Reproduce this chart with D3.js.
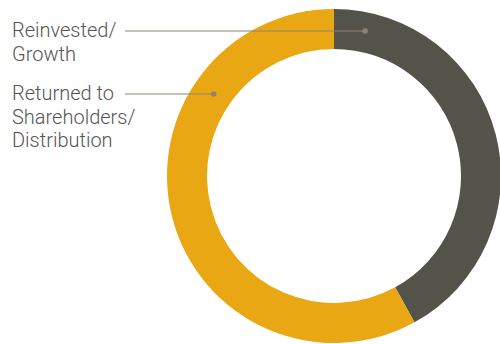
<!DOCTYPE html>
<html>
<head>
<meta charset="utf-8">
<script src="https://cdn.jsdelivr.net/npm/d3@7"></script>
<style>
	body { margin: 0; background: #fff; }
	svg { display: block; }
	.label { font-family: 'Roboto', 'Liberation Sans', sans-serif; font-weight: 300; font-size: 20px; fill: #555555; }
</style>
</head>
<body>
<div id="chart"></div>
<script>
// chart data
const categories = ['Reinvested/ Growth', 'Returned to Shareholders/ Distribution'];
const shares = [42, 58];
const labelLines = [['Reinvested/', 'Growth'], ['Returned to', 'Shareholders/', 'Distribution']];
const colors = ['#54534a', '#e8a713'];

const width = 500,
	height = 344;
const cx = 334,
	cy = 176,
	outerR = 167,
	innerR = 127;

const svg = d3
	.select('#chart')
	.append('svg')
	.attr('width', width)
	.attr('height', height);

const data = categories.map((c, i) => ({ name: c, value: shares[i] }));

const pie = d3
	.pie()
	.sort(null)
	.value(d => d.value);

const arc = d3.arc().innerRadius(innerR).outerRadius(outerR);

const g = svg.append('g').attr('transform', 'translate(' + cx + ',' + cy + ')');

g.selectAll('path')
	.data(pie(data))
	.enter()
	.append('path')
	.attr('d', arc)
	.attr('fill', (d, i) => colors[i]);

// labels with leader lines into the ring
const labelTop = [37, 100];
const lineHeight = 23.5;
const lineStart = 125;
const dotR = [148.3, 145.6];

const labels = svg
	.append('g')
	.selectAll('g')
	.data(data)
	.enter()
	.append('g');

labels.each(function (d, i) {
	const el = d3.select(this);
	const text = el.append('text').attr('class', 'label').attr('x', 12).attr('y', labelTop[i]);
	labelLines[i].forEach((t, j) => {
		text.append('tspan').attr('x', 12).attr('y', labelTop[i] + j * lineHeight).text(t);
	});

	const ly = labelTop[i] - 6;
	const dy = ly - cy;
	const dx = Math.sqrt(dotR[i] * dotR[i] - dy * dy);
	const px = i === 0 ? cx + dx : cx - dx;

	el.append('line')
		.attr('x1', lineStart)
		.attr('x2', px)
		.attr('y1', ly)
		.attr('y2', ly)
		.attr('stroke', '#8c8473')
		.attr('stroke-width', 1.2);

	el.append('circle')
		.attr('cx', px)
		.attr('cy', ly)
		.attr('r', 2.8)
		.attr('fill', '#8c8473');
});
</script>
</body>
</html>
